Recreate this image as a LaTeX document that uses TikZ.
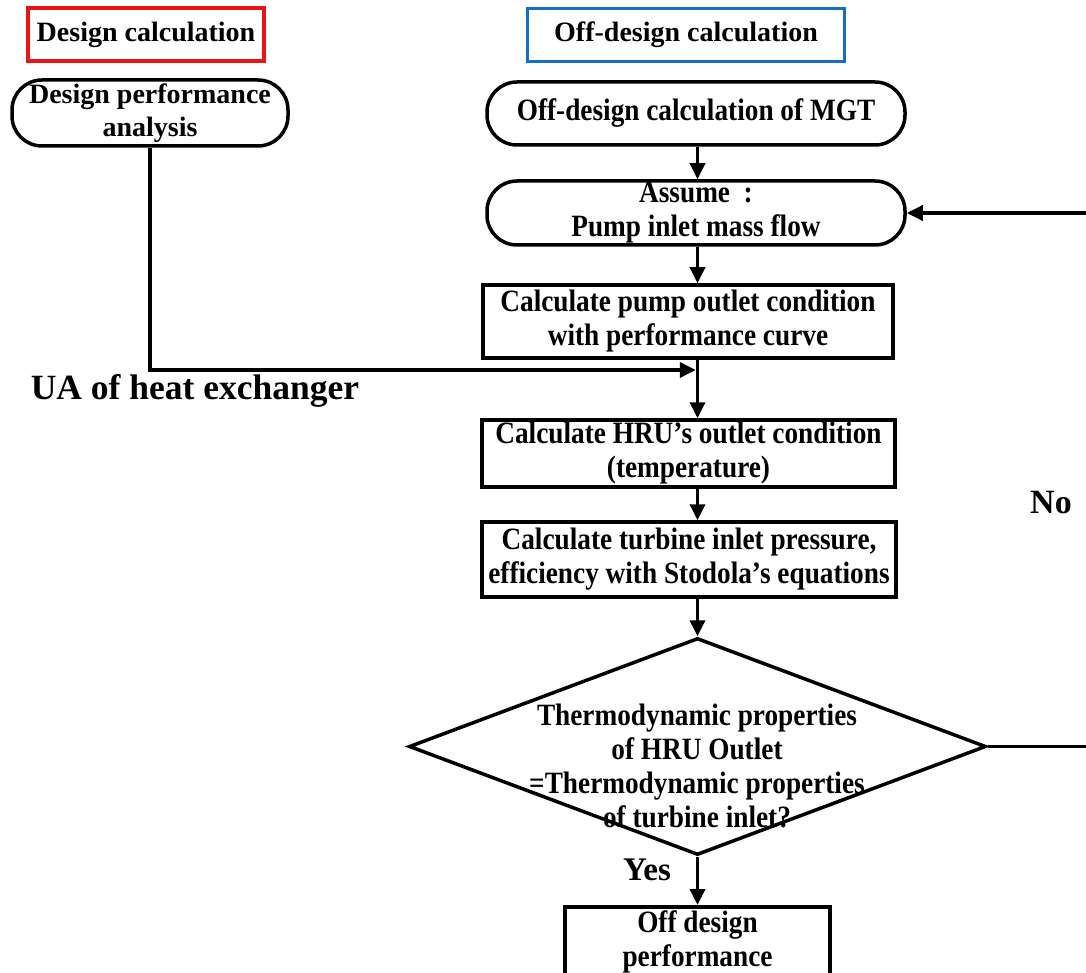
\documentclass[tikz,border=0pt]{standalone}
\usepackage{fontspec}
\setmainfont{Liberation Serif}
\newfontfamily\condfam[FakeStretch=0.88]{Liberation Serif}
\usetikzlibrary{arrows.meta,shapes.geometric,calc}
\definecolor{hdrred}{RGB}{235,20,20}
\definecolor{hdrblue}{RGB}{20,110,200}
\newcommand\condtxt{\condfam\bfseries\fontsize{31}{34}\selectfont}
\newcommand\hdrtxt{\bfseries\fontsize{28}{33}\selectfont}
\tikzset{
  rbox/.style={draw, line width=3.5pt, rounded corners=30pt, align=center, inner sep=0pt, font=\condtxt},
  sbox/.style={draw, line width=3.5pt, align=center, inner sep=0pt, font=\condtxt},
  hdr/.style={draw, line width=3.5pt, align=center, inner sep=0pt, font=\hdrtxt},
  conn/.style={line width=3.5pt, -{Triangle[length=16pt,width=15pt]}},
  lbl/.style={inner sep=0pt, font=\bfseries}
}
\begin{document}
\begin{tikzpicture}[x=1pt,y=-1pt]
\useasboundingbox (0,0) rectangle (1086,973);
\clip (0,0) rectangle (1086,973);
\fill[white] (0,0) rectangle (1086,973);
% headers
\node[hdr, draw=hdrred, minimum width=236pt, minimum height=53pt] (dc) at (146,34.5) {Design calculation};
\node[hdr, draw=hdrblue, minimum width=317pt, minimum height=53pt] (odc) at (686,35) {Off-design calculation};
% left column
\node[rbox, font=\hdrtxt, minimum width=276pt, minimum height=66pt] (dpa) at (150,113) {\raisebox{-3pt}{Design performance}\\\raisebox{-3pt}{analysis}};
% main column
\coordinate (axis) at (697.5,0);
\node[rbox, minimum width=418pt, minimum height=63pt] (mgt) at (696,113.5) {Off-design calculation of MGT};
\node[rbox, minimum width=418pt, minimum height=64pt] (assume) at (696,213) {Assume\ \ :\\Pump inlet mass flow};
\node[sbox, minimum width=410pt, minimum height=73pt] (pump) at (688,321.5) {Calculate pump outlet condition\\with performance curve};
\node[sbox, minimum width=413pt, minimum height=67pt] (hru) at (688.5,453.5) {Calculate HRU’s outlet condition\\(temperature)};
\node[sbox, minimum width=414pt, minimum height=75pt] (turb) at (689,559.5) {Calculate turbine inlet pressure,\\efficiency with Stodola’s equations};
\node[draw, diamond, line width=3.5pt, inner sep=0pt, minimum width=577pt, minimum height=217pt] (dia) at (697.5,746.5) {};
\node[align=center, inner sep=0pt, font=\condtxt] (diatext) at (697,766) {Thermodynamic properties\\of HRU Outlet\\=Thermodynamic properties\\of turbine inlet?};
\node[draw, line width=3.5pt, inner sep=0pt, minimum width=265pt, minimum height=140pt, anchor=north] (final) at (697.5,905) {};
\node[align=center, inner sep=0pt, font=\condtxt] (finaltext) at (697.5,941.5) {Off design\\performance};
% labels
\node[lbl, font=\bfseries\fontsize{35.5}{40}\selectfont] (ualbl) at (195,391) {UA of heat exchanger};
\node[lbl, font=\bfseries\fontsize{34}{40}\selectfont] (nolbl) at (1051,503) {No};
\node[lbl, font=\bfseries\fontsize{33}{40}\selectfont] (yeslbl) at (647,870) {Yes};
% connectors
\coordinate (ua) at (697.5,370);
\coordinate (rx) at (1110,0);
\draw[conn] (mgt.south -| axis) -- (assume.north -| axis);
\draw[conn] (assume.south -| axis) -- (pump.north -| axis);
\draw[conn] (pump.south -| axis) -- (hru.north -| axis);
\draw[conn, shorten >=1.75pt] (dpa.south) |- (ua);
\draw[conn] (hru.south -| axis) -- (turb.north -| axis);
\draw[conn] (turb.south -| axis) -- (dia.north);
\draw[conn] (dia.south) -- (final.north);
\draw[conn] (dia.east) -- (dia.east -| rx) |- (assume.east);
\end{tikzpicture}
\end{document}
